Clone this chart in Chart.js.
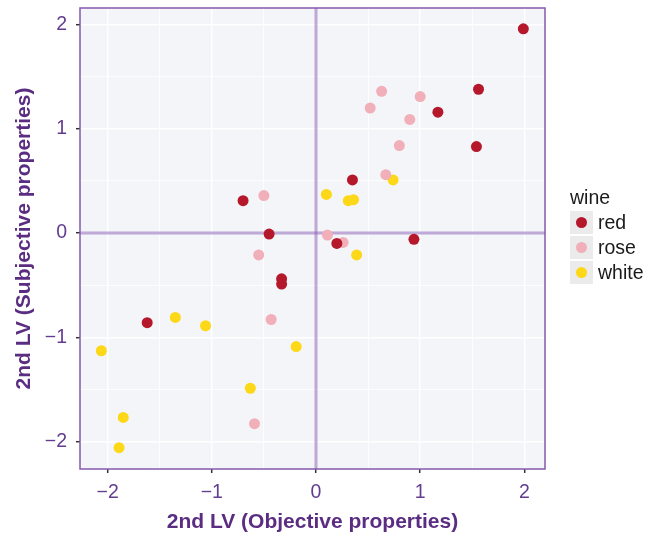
<!DOCTYPE html>
<html>
<head>
<meta charset="utf-8">
<script src="https://cdn.jsdelivr.net/npm/chart.js@4.4.1/dist/chart.umd.min.js"></script>
<style>
  html, body { margin: 0; padding: 0; background: #ffffff; }
  #wrap { position: relative; width: 655px; height: 537px; }
  #legend { position: absolute; left: 0; top: 0; font-family: "Liberation Sans", Arial, sans-serif; color: #1a1a1a; }
  .lg-title { position: absolute; left: 570px; top: 187px; font-size: 19.5px; line-height: 20px; white-space: nowrap; }
  .lg-box { position: absolute; left: 570px; width: 23px; height: 23px; background: #ebebeb; }
  .lg-dot { position: absolute; left: 6px; top: 6px; width: 11px; height: 11px; border-radius: 50%; }
  .lg-label { position: absolute; left: 598px; font-size: 19.5px; line-height: 20px; white-space: nowrap; }
</style>
</head>
<body>
<div id="wrap">
  <canvas id="c" width="655" height="537"></canvas>
  <div id="legend"></div>
</div>
<script>
// ---- data ----
const wineTypes = ['red', 'rose', 'white'];
const wineColors = ['#b5172b', '#f1afb9', '#fcd818'];

const redX   = [-0.70, -0.45, 1.99, 1.56, 1.17, 1.54, 0.35, 0.20, 0.94, -0.33, -0.33, -1.62];
const redY   = [ 0.31, -0.01, 1.96, 1.38, 1.16, 0.83, 0.51, -0.10, -0.06, -0.44, -0.49, -0.86];

const roseX  = [-0.50, -0.55, 0.11, 0.63, 1.00, 0.52, 0.90, 0.80, 0.67, 0.26, -0.43, -0.59];
const roseY  = [ 0.36, -0.21, -0.02, 1.36, 1.31, 1.20, 1.09, 0.84, 0.56, -0.09, -0.83, -1.83];

const whiteX = [0.10, 0.74, 0.31, 0.36, 0.39, -1.35, -1.06, -2.06, -0.19, -0.63, -1.85, -1.89];
const whiteY = [0.37, 0.51, 0.31, 0.32, -0.21, -0.81, -0.89, -1.13, -1.09, -1.49, -1.77, -2.06];

const xTitle = '2nd LV (Objective properties)';
const yTitle = '2nd LV (Subjective properties)';
const xRange = [-2.265, 2.198];
const yRange = [-2.265, 2.16];
const refLineValue = 0;

// ---- build ----
const seriesX = [redX, roseX, whiteX];
const seriesY = [redY, roseY, whiteY];
const datasets = wineTypes.map((name, i) => ({
  label: name,
  data: seriesX[i].map((x, j) => ({ x: x, y: seriesY[i][j] })),
  backgroundColor: wineColors[i],
  borderWidth: 0,
  pointRadius: 5.5,
  pointHoverRadius: 5.5
}));

const tickColor = '#633d8f';
const titleColor = '#5a2d82';
const fmt = v => Number.isInteger(v) ? (v < 0 ? '\u2212' + Math.abs(v) : String(v)) : '';

function gridWidth(ctx) {
  return Number.isInteger(ctx.tick.value) ? 1.4 : 0.8;
}
function tickMarkColor(ctx) {
  return Number.isInteger(ctx.tick.value) ? '#333333' : 'rgba(0,0,0,0)';
}

const panelPlugin = {
  id: 'panel',
  beforeDraw(chart) {
    const a = chart.chartArea, c = chart.ctx;
    c.save();
    c.fillStyle = '#f4f5f9';
    c.fillRect(a.left, a.top, a.right - a.left, a.bottom - a.top);
    c.restore();
  },
  beforeDatasetsDraw(chart) {
    const a = chart.chartArea, c = chart.ctx;
    const px = chart.scales.x.getPixelForValue(refLineValue);
    const py = chart.scales.y.getPixelForValue(refLineValue);
    c.save();
    c.strokeStyle = 'rgba(130, 85, 175, 0.5)';
    c.lineWidth = 3;
    c.beginPath();
    c.moveTo(a.left, py); c.lineTo(a.right, py);
    c.stroke();
    c.beginPath();
    c.moveTo(px, a.top); c.lineTo(px, a.bottom);
    c.stroke();
    c.restore();
  },
  afterDraw(chart) {
    const a = chart.chartArea, c = chart.ctx;
    c.save();
    c.strokeStyle = '#8558ad';
    c.lineWidth = 1.5;
    c.strokeRect(a.left, a.top, a.right - a.left, a.bottom - a.top);
    c.restore();
  }
};

const font = '"Liberation Sans", Arial, Helvetica, sans-serif';

new Chart(document.getElementById('c'), {
  type: 'scatter',
  data: { datasets: datasets },
  options: {
    responsive: false,
    animation: false,
    devicePixelRatio: 1,
    layout: { padding: { top: 8, right: 110, left: 0, bottom: 0 } },
    plugins: { legend: { display: false }, tooltip: { enabled: false } },
    scales: {
      x: {
        type: 'linear',
        min: xRange[0], max: xRange[1],
        afterFit: s => { s.height = 68; s.paddingLeft = 0; s.paddingRight = 0; },
        border: { display: false },
        grid: { color: '#ffffff', lineWidth: gridWidth, tickColor: tickMarkColor, tickLength: 4, tickWidth: 1.5 },
        ticks: { stepSize: 0.5, includeBounds: false, autoSkip: false, maxRotation: 0, callback: fmt, color: tickColor, padding: 8, font: { family: font, size: 19.5 } },
        title: { display: true, text: xTitle, color: titleColor, font: { family: font, size: 21, weight: 'bold', lineHeight: 1 }, padding: { top: 0, bottom: 4 } }
      },
      y: {
        type: 'linear',
        min: yRange[0], max: yRange[1],
        afterFit: s => { s.width = 80; s.paddingTop = 0; s.paddingBottom = 0; },
        border: { display: false },
        grid: { color: '#ffffff', lineWidth: gridWidth, tickColor: tickMarkColor, tickLength: 4, tickWidth: 1.5 },
        ticks: { stepSize: 0.5, includeBounds: false, autoSkip: false, callback: fmt, color: tickColor, padding: 9, font: { family: font, size: 19.5 } },
        title: { display: true, text: yTitle, color: titleColor, font: { family: font, size: 21, weight: 'bold', lineHeight: 1 }, padding: { top: 14, bottom: 0 } }
      }
    }
  },
  plugins: [panelPlugin]
});

// ---- legend (real text) ----
const legend = document.getElementById('legend');
const t = document.createElement('div');
t.className = 'lg-title';
t.textContent = 'wine';
legend.appendChild(t);
wineTypes.forEach((name, i) => {
  const top = 210.5 + i * 25;
  const box = document.createElement('div');
  box.className = 'lg-box';
  box.style.top = top + 'px';
  const dot = document.createElement('div');
  dot.className = 'lg-dot';
  dot.style.background = wineColors[i];
  box.appendChild(dot);
  legend.appendChild(box);
  const lab = document.createElement('div');
  lab.className = 'lg-label';
  lab.style.top = (top + 1.5) + 'px';
  lab.textContent = name;
  legend.appendChild(lab);
});
</script>
</body>
</html>
